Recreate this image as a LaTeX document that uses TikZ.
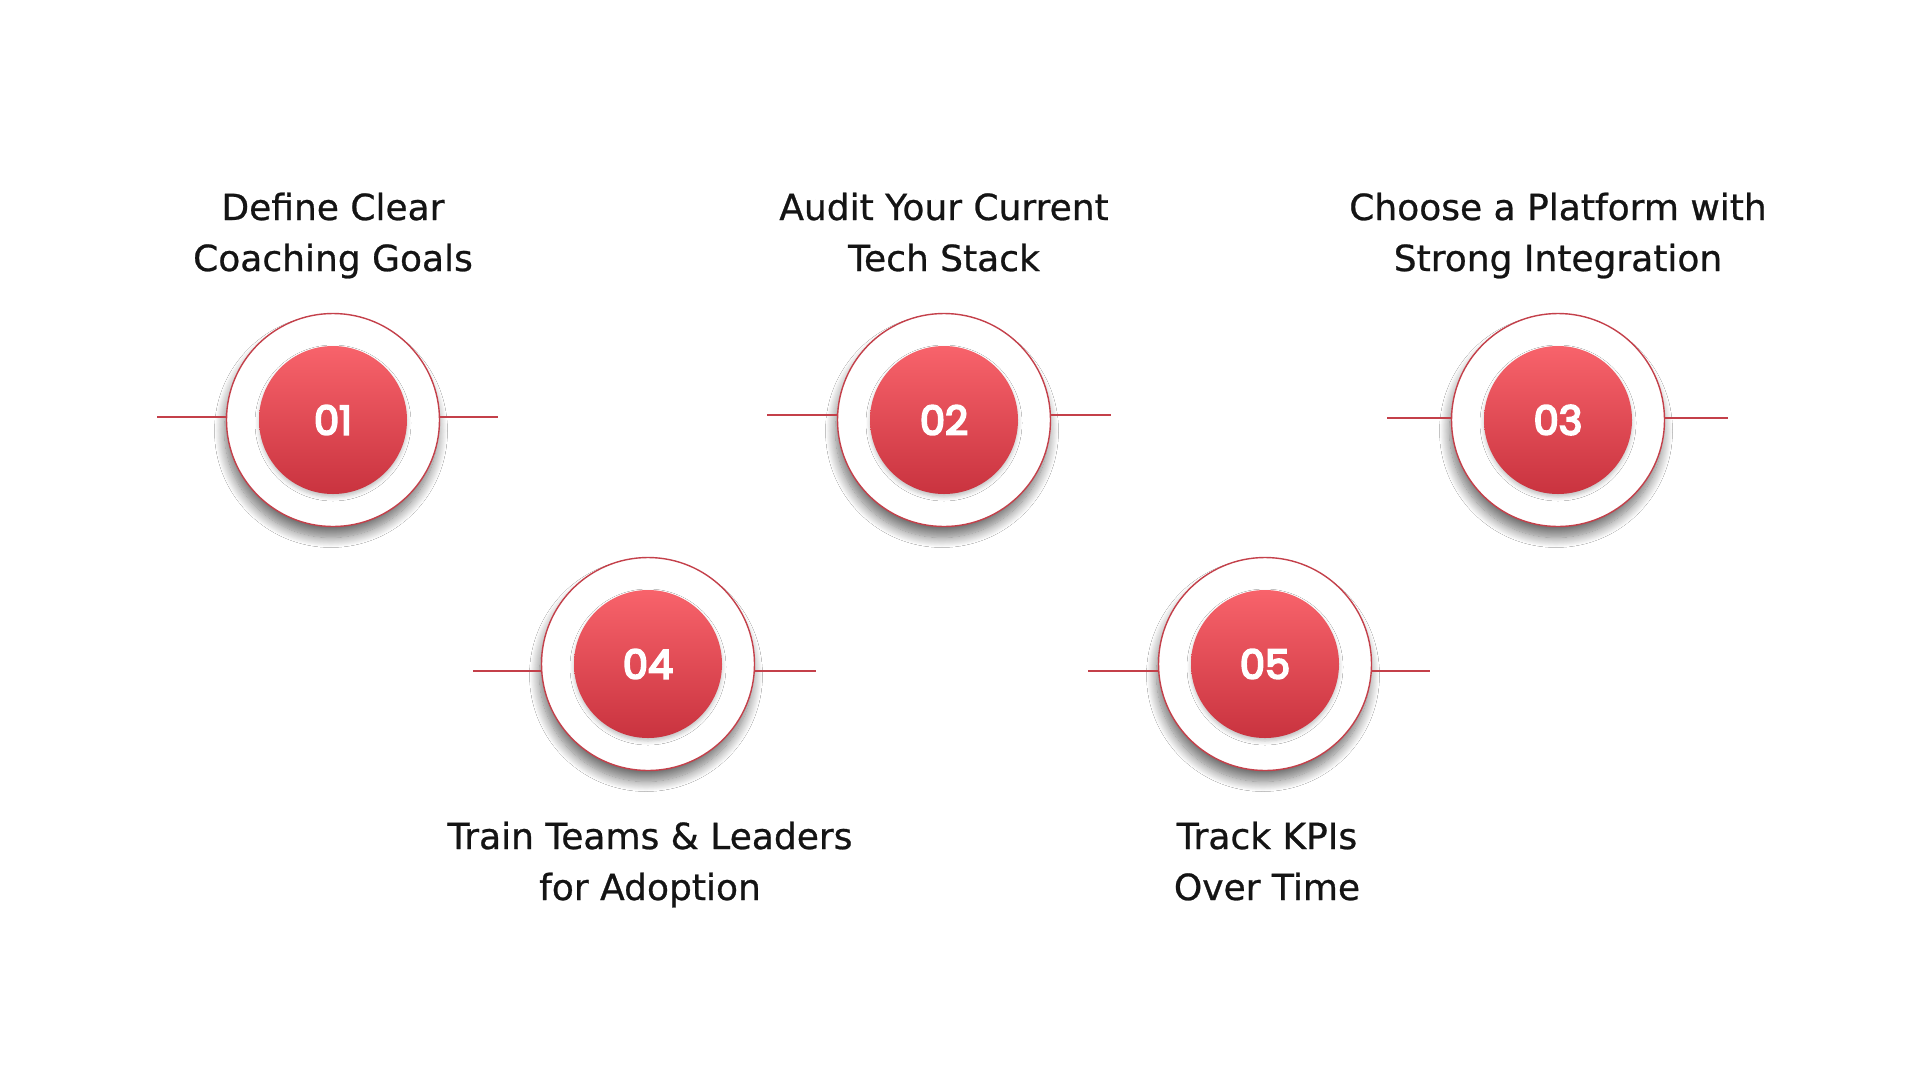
\documentclass[tikz,border=0pt]{standalone}
\usepackage{fontspec}
\setmainfont{DejaVu Sans}[BoldFont={DejaVu Sans}, BoldFeatures={FakeBold=0.7}]
\newfontfamily\numfont{Poppins}[BoldFont={Poppins}, BoldFeatures={FakeBold=5}]
\usetikzlibrary{shadows.blur}
\definecolor{ring}{HTML}{C4404A}
\definecolor{redtop}{HTML}{F8636B}
\definecolor{redbot}{HTML}{C9333F}
\definecolor{ink}{HTML}{141414}
\begin{document}
\begin{tikzpicture}[x=1pt,y=-1pt,
  outer/.style={circle, draw=ring, line width=1.4pt, fill=white, minimum size=213pt, inner sep=0pt,
    blur shadow={shadow xshift=-2pt, shadow yshift=-11pt, shadow blur radius=10pt, shadow blur steps=14, shadow opacity=55}},
  inner/.style={circle, minimum size=148pt, inner sep=0pt, top color=redtop, bottom color=redbot,
    text=white, font=\numfont\bfseries\fontsize{40}{40}\selectfont,
    blur shadow={shadow xshift=0pt, shadow yshift=-3pt, shadow blur radius=4pt, shadow opacity=25}},
  conn/.style={draw=ring, line width=1.2pt},
  steplabel/.style={align=center, text=ink, font=\bfseries\fontsize{36}{51}\selectfont, inner sep=0pt, anchor=base}]
\useasboundingbox (0,0) rectangle (1920,1080);
\fill[white] (0,0) rectangle (1920,1080);
% connector end points
\coordinate (l1a) at (157,417); \coordinate (l1b) at (498,417);
\coordinate (l2a) at (767,415); \coordinate (l2b) at (1111,415);
\coordinate (l3a) at (1387,418); \coordinate (l3b) at (1728,418);
\coordinate (l4a) at (473,671); \coordinate (l4b) at (816,671);
\coordinate (l5a) at (1088,671); \coordinate (l5b) at (1430,671);
% outer rings
\node[outer] (c1) at (333,420) {};
\node[outer] (c2) at (944,420) {};
\node[outer] (c3) at (1558,420) {};
\node[outer] (c4) at (648,664) {};
\node[outer] (c5) at (1265,664) {};
% connectors
\draw[conn] (l1a) -- (l1a -| c1.west); \draw[conn] (l1b -| c1.east) -- (l1b);
\draw[conn] (l2a) -- (l2a -| c2.west); \draw[conn] (l2b -| c2.east) -- (l2b);
\draw[conn] (l3a) -- (l3a -| c3.west); \draw[conn] (l3b -| c3.east) -- (l3b);
\draw[conn] (l4a) -- (l4a -| c4.west); \draw[conn] (l4b -| c4.east) -- (l4b);
\draw[conn] (l5a) -- (l5a -| c5.west); \draw[conn] (l5b -| c5.east) -- (l5b);
% inner discs
\node[inner] (n1) at (333,420) {01};
\node[inner] (n2) at (944,420) {02};
\node[inner] (n3) at (1558,420) {03};
\node[inner] (n4) at (648,664) {04};
\node[inner] (n5) at (1265,664) {05};
% labels (anchor base = baseline of the last line)
\node[steplabel] (t1) at (333,271) {Define Clear\\Coaching Goals};
\node[steplabel] (t2) at (944,271) {Audit Your Current\\Tech Stack};
\node[steplabel] (t3) at (1558,271) {Choose a Platform with\\Strong Integration};
\node[steplabel] (t4) at (650,900) {Train Teams \& Leaders\\for Adoption};
\node[steplabel] (t5) at (1267,900) {Track KPIs\\Over Time};
\end{tikzpicture}
\end{document}
